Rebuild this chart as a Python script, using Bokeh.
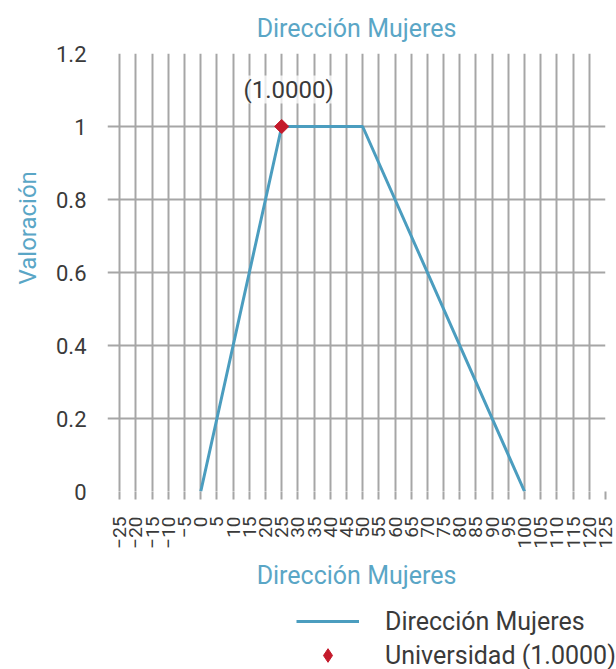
import math
from bokeh.plotting import figure
from bokeh.layouts import column
from bokeh.models import (Range1d, FixedTicker, Label, Legend, LegendItem, Title)
from bokeh.embed import file_html
from bokeh.resources import INLINE

# ---- data ----
line_x = [0, 25, 50, 100]
line_y = [0, 1, 1, 0]
series_name = "Dirección Mujeres"
point_x = [25]
point_y = [1.0]
point_name = "Universidad"
x_ticks = list(range(-25, 130, 5))
y_ticks = [0, 0.2, 0.4, 0.6, 0.8, 1.0, 1.2]
y_tick_labels = ["0", "0.2", "0.4", "0.6", "0.8", "1", "1.2"]
title_text = "Dirección Mujeres"
x_label_text = "Dirección Mujeres"
y_label_text = "Valoración"

FONT = "Roboto"
BLUE = "#4b9dbf"
TITLE_BLUE = "#5aa6c6"
RED = "#c41a2b"
GRID = "#a6a6a6"
TXT = "#3a3a3a"

p = figure(frame_width=498, frame_height=438,
           min_border_left=107, min_border_right=11,
           min_border_top=52, min_border_bottom=110,
           x_range=Range1d(-28.8, 125), y_range=Range1d(0, 1.2),
           output_backend="svg", toolbar_location=None,
           background_fill_color="white", border_fill_color="white")
p.outline_line_color = None

# title
p.title.text = title_text
p.title.align = "center"
p.title.text_font = FONT
p.title.text_font_size = "25px"
p.title.text_font_style = "normal"
p.title.text_color = TITLE_BLUE
p.title.standoff = 22

# grids
p.xgrid.ticker = FixedTicker(ticks=x_ticks)
p.ygrid.ticker = FixedTicker(ticks=y_ticks)
for g in (p.xgrid, p.ygrid):
    g.grid_line_color = GRID
    g.grid_line_width = 2

# x axis
xa = p.xaxis[0]
xa.ticker = FixedTicker(ticks=x_ticks)
xa.axis_line_color = None
xa.major_tick_line_color = GRID
xa.major_tick_line_width = 2
xa.major_tick_out = 8
xa.major_tick_in = 0
xa.minor_tick_line_color = None
xa.major_label_orientation = math.pi / 2
xa.major_label_text_font = FONT
xa.major_label_text_font_size = "19px"
xa.major_label_text_color = TXT
xa.major_label_standoff = 17

# y axis
ya = p.yaxis[0]
ya.ticker = FixedTicker(ticks=y_ticks)
ya.major_label_overrides = {t: l for t, l in zip(y_ticks, y_tick_labels)}
ya.axis_line_color = None
ya.major_tick_line_color = None
ya.minor_tick_line_color = None
ya.major_label_text_font = FONT
ya.major_label_text_font_size = "22px"
ya.major_label_text_color = TXT
ya.major_label_standoff = 15

# series
r_line = p.line(line_x, line_y, line_color=BLUE, line_width=3)
r_pt = p.scatter(point_x, point_y, marker="square", angle=math.pi / 4,
                 size=10, fill_color=RED, line_color=RED)

val_txt = "({:.4f})".format(point_y[0])
p.add_layout(Label(x=point_x[0], y=point_y[0], x_offset=7, y_offset=37,
                   text=val_txt, text_align="center", text_baseline="middle",
                   text_font=FONT, text_font_size="24px", text_color=TXT,
                   background_fill_color="white", background_fill_alpha=0.75))

# axis titles as side titles
ylab = Title(text=y_label_text, align="left", offset=207, standoff=22,
             text_font=FONT, text_font_size="24px", text_font_style="normal",
             text_color=TITLE_BLUE)
p.add_layout(ylab, "left")
xlab = Title(text=x_label_text, align="center", standoff=14,
             text_font=FONT, text_font_size="25px", text_font_style="normal",
             text_color=TITLE_BLUE)
p.add_layout(xlab, "below")

# ---- legend strip (separate figure, glyphs kept out of its view) ----
q = figure(frame_width=616, frame_height=69, min_border=0,
           x_range=Range1d(1000, 1001), y_range=Range1d(1000, 1001),
           output_backend="svg", toolbar_location=None,
           background_fill_color="white", border_fill_color="white")
q.outline_line_color = None
q.axis.visible = False
q.grid.visible = False
q_line = q.line(line_x, line_y, line_color=BLUE, line_width=3)
q_pt = q.scatter(point_x, point_y, marker="diamond", size=21,
                 fill_color=RED, line_color=RED)

legend = Legend(items=[
    LegendItem(label=series_name, renderers=[q_line]),
    LegendItem(label="{} {}".format(point_name, val_txt), renderers=[q_pt]),
], location=(296, -2), orientation="vertical")
legend.margin = 0
legend.padding = 0
legend.border_line_color = None
legend.background_fill_alpha = 0
legend.glyph_width = 63
legend.glyph_height = 34
legend.label_height = 34
legend.spacing = 0
legend.label_standoff = 26
legend.label_text_font = FONT
legend.label_text_font_size = "25px"
legend.label_text_color = TXT
q.add_layout(legend)

open("out.html", "w").write(file_html(column(p, q), INLINE))
